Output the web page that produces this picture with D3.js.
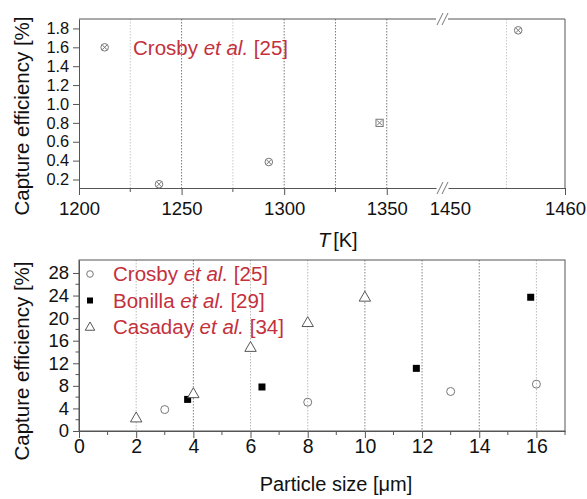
<!DOCTYPE html>
<html>
<head>
<meta charset="utf-8">
<script src="https://cdn.jsdelivr.net/npm/d3@7"></script>
<style>
  body { margin: 0; background: #fff; }
  svg text { font-family: "Liberation Sans", Arial, sans-serif; }
  .axis path, .axis line { stroke: #555; }
  .axis text { fill: #111; }
</style>
</head>
<body>
<div class="container_main"></div>
<script>
// top panel: capture efficiency vs temperature
const tempK = [1212.5, 1239, 1292.5, 1346.5, 1456];
const tempEff = [1.6, 0.15, 0.385, 0.8, 1.78];
const tempShape = ["circle", "circle", "circle", "square", "circle"];
const tempTicksA = [1200, 1250, 1300, 1350];
const tempTicksB = [1450, 1460];
const tempGrid = [1225, 1250, 1275, 1300, 1325, 1350, 1455];
const effTicksTop = [0.2, 0.4, 0.6, 0.8, 1.0, 1.2, 1.4, 1.6, 1.8];

// bottom panel: capture efficiency vs particle size
const crosbySize = [3, 8, 13, 16];
const crosbyEff = [3.8, 5.1, 7.0, 8.3];
const bonillaSize = [3.8, 6.4, 11.8, 15.8];
const bonillaEff = [5.6, 7.8, 11.1, 23.7];
const casadaySize = [2, 4, 6, 8, 10];
const casadayEff = [2.3, 6.6, 14.8, 19.2, 23.7];
const sizeTicks = [0, 2, 4, 6, 8, 10, 12, 14, 16];
const effTicksBottom = [0, 4, 8, 12, 16, 20, 24, 28];
const legendNames = ["Crosby", "Bonilla", "Casaday"];
const legendRefs = ["[25]", "[29]", "[34]"];

const red = "#c3313d";
const markGrey = "#777";

const svg = d3.select(".container_main")
  .append("svg")
  .attr("width", 587)
  .attr("height", 499);

// ---------- top panel ----------
const tp = {left: 79, right: 565, top: 19, bottom: 188, breakA: 436, breakB: 448};
const xA = d3.scaleLinear().domain([1200, 1374]).range([tp.left, tp.breakA]);
const xB = d3.scaleLinear().domain([1450, 1460]).range([tp.breakB, tp.right]);
const xT = v => v < 1400 ? xA(v) : xB(v);
const yT = d3.scaleLinear().domain([0.11, 1.9]).range([tp.bottom, tp.top]);

// grid
svg.append("g").selectAll("line")
  .data(tempGrid)
  .enter().append("line")
    .attr("x1", d => xT(d)).attr("x2", d => xT(d))
    .attr("y1", tp.top).attr("y2", tp.bottom)
    .attr("stroke", d => (d % 50 == 0 && d < 1400) || d == 1325 ? "#555" : "#bbb")
    .attr("stroke-width", 0.8)
    .attr("stroke-dasharray", "1.5,1.5");

// axes bottom (two segments)
const axA = svg.append("g")
  .attr("class", "axis")
  .attr("transform", "translate(0," + tp.bottom + ")")
  .call(d3.axisBottom(xA).tickValues(tempTicksA).tickSize(7).tickSizeOuter(0).tickFormat(d3.format("d")));
const axB = svg.append("g")
  .attr("class", "axis")
  .attr("transform", "translate(0," + tp.bottom + ")")
  .call(d3.axisBottom(xB).tickValues(tempTicksB).tickSize(7).tickSizeOuter(0).tickFormat(d3.format("d")));
axB.selectAll(".tick").filter(d => d == 1450).select("line").remove();
axA.selectAll(".tick text").attr("font-size", 18.5).attr("dy", "0.9em");
axB.selectAll(".tick text").attr("font-size", 18.5).attr("dy", "0.9em");
axB.selectAll(".tick").filter(d => d == 1450).select("text").attr("dx", "0.1em");
// minor ticks
svg.append("g").selectAll("line")
  .data([1225, 1275, 1325])
  .enter().append("line")
    .attr("x1", d => xA(d)).attr("x2", d => xA(d))
    .attr("y1", tp.bottom).attr("y2", tp.bottom + 4)
    .attr("stroke", "#555");

// top frame segments and right frame
svg.append("line").attr("x1", tp.left).attr("x2", tp.breakA).attr("y1", tp.top).attr("y2", tp.top).attr("stroke", "#555");
svg.append("line").attr("x1", tp.breakB).attr("x2", tp.right).attr("y1", tp.top).attr("y2", tp.top).attr("stroke", "#555");
svg.append("line").attr("x1", tp.right).attr("x2", tp.right).attr("y1", tp.top).attr("y2", tp.bottom).attr("stroke", "#555");

// break marks
[tp.top, tp.bottom].forEach(function(yy) {
  [tp.breakA + 1, tp.breakA + 6].forEach(function(xx) {
    svg.append("line")
      .attr("x1", xx).attr("y1", yy + 6)
      .attr("x2", xx + 6).attr("y2", yy - 6)
      .attr("stroke", "#777").attr("stroke-width", 1);
  });
});

// y axis
const ayT = svg.append("g")
  .attr("class", "axis")
  .attr("transform", "translate(" + tp.left + ",0)")
  .call(d3.axisLeft(yT).tickValues(effTicksTop).tickSize(6).tickSizeOuter(0).tickFormat(d3.format(".1f")));
ayT.selectAll(".tick text").attr("font-size", 16.4).attr("dx", "-0.05em");

// markers
const tpts = svg.append("g").selectAll("g")
  .data(tempK.map((t, i) => ({t: t, e: tempEff[i], s: tempShape[i]})))
  .enter().append("g")
    .attr("transform", d => "translate(" + xT(d.t) + "," + yT(d.e) + ")");
tpts.filter(d => d.s == "circle").append("circle").attr("r", 3.8)
  .attr("fill", "none").attr("stroke", markGrey).attr("stroke-width", 1);
tpts.filter(d => d.s == "square").append("rect").attr("x", -3.6).attr("y", -3.6).attr("width", 7.2).attr("height", 7.2)
  .attr("fill", "none").attr("stroke", markGrey).attr("stroke-width", 1);
tpts.append("path").attr("d", "M-2.5,-2.5L2.5,2.5M-2.5,2.5L2.5,-2.5")
  .attr("stroke", markGrey).attr("stroke-width", 1);

// legend top
const lt = svg.append("text").attr("x", 133).attr("y", 55).attr("font-size", 20.5).attr("fill", red);
lt.append("tspan").text("Crosby ");
lt.append("tspan").attr("font-style", "italic").text("et al.");
lt.append("tspan").text(" [25]");

// labels
svg.append("text")
  .attr("transform", "translate(29,116) rotate(-90)")
  .attr("text-anchor", "middle").attr("font-size", 20.5).attr("fill", "#111")
  .text("Capture efficiency [%]");
const tl = svg.append("text").attr("x", 318).attr("y", 247).attr("font-size", 20).attr("fill", "#111");
tl.append("tspan").attr("font-style", "italic").text("T");
tl.append("tspan").attr("dx", 3).text("[K]");

// ---------- bottom panel ----------
const bot = {left: 79, right: 565, top: 260, bottom: 431};
const xS = d3.scaleLinear().domain([0, 17]).range([bot.left, bot.right]);
const yS = d3.scaleLinear().domain([0, 30.3]).range([bot.bottom, bot.top]);

svg.append("g").selectAll("line")
  .data(sizeTicks.filter(d => d > 0))
  .enter().append("line")
    .attr("x1", d => xS(d)).attr("x2", d => xS(d))
    .attr("y1", bot.top).attr("y2", bot.bottom)
    .attr("stroke", d => [4, 10, 12, 14].includes(d) ? "#666" : "#aaa")
    .attr("stroke-width", 0.8)
    .attr("stroke-dasharray", "1.5,1.5");

svg.append("rect")
  .attr("x", bot.left).attr("y", bot.top)
  .attr("width", bot.right - bot.left).attr("height", bot.bottom - bot.top)
  .attr("fill", "none").attr("stroke", "#555");

const axS = svg.append("g")
  .attr("class", "axis")
  .attr("transform", "translate(0," + bot.bottom + ")")
  .call(d3.axisBottom(xS).tickValues(sizeTicks).tickSize(7).tickSizeOuter(0));
axS.selectAll(".tick text").attr("font-size", 19.5).attr("dy", "0.6em");
svg.append("g").selectAll("line")
  .data(d3.range(1, 18, 2))
  .enter().append("line")
    .attr("x1", d => xS(d)).attr("x2", d => xS(d))
    .attr("y1", bot.bottom).attr("y2", bot.bottom + 4)
    .attr("stroke", "#555");

const ayS = svg.append("g")
  .attr("class", "axis")
  .attr("transform", "translate(" + bot.left + ",0)")
  .call(d3.axisLeft(yS).tickValues(effTicksBottom).tickSize(6).tickSizeOuter(0));
ayS.selectAll(".tick text").attr("font-size", 18.5).attr("dx", "-0.05em");
svg.append("g").selectAll("line")
  .data(d3.range(2, 30, 4))
  .enter().append("line")
    .attr("x1", bot.left - 3.5).attr("x2", bot.left)
    .attr("y1", d => yS(d)).attr("y2", d => yS(d))
    .attr("stroke", "#555");

// markers
function triPath(s) { return "M0," + (-s) + "L" + (s * 0.95) + "," + (s * 0.65) + "L" + (-s * 0.95) + "," + (s * 0.65) + "Z"; }
svg.append("g").selectAll("circle")
  .data(crosbySize.map((d, i) => [d, crosbyEff[i]]))
  .enter().append("circle")
    .attr("cx", d => xS(d[0])).attr("cy", d => yS(d[1])).attr("r", 4)
    .attr("fill", "none").attr("stroke", markGrey).attr("stroke-width", 1);
svg.append("g").selectAll("rect")
  .data(bonillaSize.map((d, i) => [d, bonillaEff[i]]))
  .enter().append("rect")
    .attr("x", d => xS(d[0]) - 3.5).attr("y", d => yS(d[1]) - 3.5)
    .attr("width", 7).attr("height", 7).attr("fill", "#000");
svg.append("g").selectAll("path")
  .data(casadaySize.map((d, i) => [d, casadayEff[i]]))
  .enter().append("path")
    .attr("transform", d => "translate(" + xS(d[0]) + "," + yS(d[1]) + ")")
    .attr("d", triPath(6))
    .attr("fill", "#fff").attr("stroke", "#444").attr("stroke-width", 0.9);

// legend bottom
const leg = svg.append("g").selectAll("g")
  .data(legendNames)
  .enter().append("g")
    .attr("transform", (d, i) => "translate(90," + (274 + i * 26.5) + ")");
leg.filter((d, i) => i == 0).append("circle").attr("r", 3.3).attr("fill", "none").attr("stroke", markGrey);
leg.filter((d, i) => i == 1).append("rect").attr("x", -3).attr("y", -3).attr("width", 6).attr("height", 6).attr("fill", "#000");
leg.filter((d, i) => i == 2).append("path").attr("d", triPath(5)).attr("fill", "#fff").attr("stroke", "#444").attr("stroke-width", 0.9);
const lgt = leg.append("text").attr("x", 23).attr("y", 7).attr("font-size", 20.5).attr("fill", red);
lgt.append("tspan").text(d => d + " ");
lgt.append("tspan").attr("font-style", "italic").text("et al.");
lgt.append("tspan").text((d, i) => " " + legendRefs[i]);

svg.append("text")
  .attr("transform", "translate(29,361) rotate(-90)")
  .attr("text-anchor", "middle").attr("font-size", 20.5).attr("fill", "#111")
  .text("Capture efficiency [%]");
svg.append("text")
  .attr("x", 336).attr("y", 491).attr("text-anchor", "middle")
  .attr("font-size", 20).attr("fill", "#111")
  .text("Particle size [\u03bcm]");
</script>
</body>
</html>
